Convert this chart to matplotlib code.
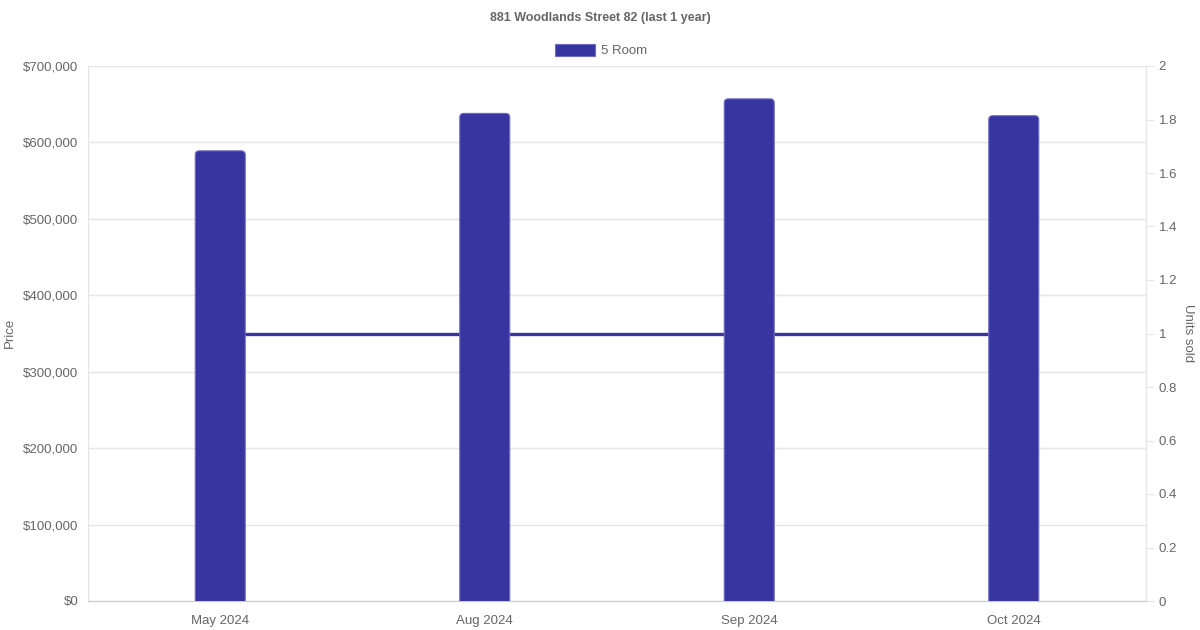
import matplotlib.pyplot as plt
import numpy as np
from matplotlib.patches import FancyBboxPatch
from matplotlib.ticker import FuncFormatter


TITLE = "881 Woodlands Street 82 (last 1 year)"
SERIES = "5 Room"
months = ["May 2024", "Aug 2024", "Sep 2024", "Oct 2024"]
prices = [589000, 638000, 657000, 635000]
units_sold = [1, 1, 1, 1]

BAR = "#3835a0"
EDGE = "#6e6bc4"
GRID = "#e5e5e5"
TEXT = "#666666"

plt.rcParams["font.family"] = ["Liberation Sans", "DejaVu Sans"]


def main():
    fig = plt.figure(figsize=(12, 6.3), dpi=100)
    ax = fig.add_axes([88 / 1200, 29 / 630, (1146 - 88) / 1200, (601 - 66) / 630])
    ax2 = ax.twinx()
    ax.set_zorder(ax2.get_zorder() + 1)
    ax.patch.set_visible(False)

    x = np.arange(len(months)) + 0.5
    ax.set_xlim(0, len(months))
    ax.set_ylim(0, 700000)
    ax2.set_ylim(0, 2)

    # line behind the bars, on the right axis
    ax2.plot(x, units_sold, color=BAR, lw=2.4, solid_capstyle="butt", zorder=1)

    # rounded top bars, bottom pushed below 0 so only the top corners show
    width = 50 / (1058 / len(months))
    rx = 4 / (1058 / len(months))
    ry = 4 * 700000 / 535
    for xi, p in zip(x, prices):
        patch = FancyBboxPatch(
            (xi - width / 2, -20000), width, p + 20000,
            boxstyle=f"round,pad=0,rounding_size={rx}",
            mutation_aspect=ry / rx,
            facecolor=BAR, edgecolor=EDGE, lw=0.8, zorder=3,
        )
        ax.add_patch(patch)

    ax.set_xticks(x)
    ax.set_xticklabels(months)
    ax.set_yticks(np.arange(0, 700001, 100000))
    ax.yaxis.set_major_formatter(FuncFormatter(lambda v, _: f"${v:,.0f}"))
    ax2.set_yticks(np.arange(0, 2.01, 0.2))
    ax2.yaxis.set_major_formatter(FuncFormatter(lambda v, _: f"{v:g}"))

    ax.grid(axis="y", color=GRID, lw=1)
    ax.set_axisbelow(True)
    ax.tick_params(axis="both", length=0, colors=TEXT, labelsize=9.5)
    ax.tick_params(axis="x", pad=10)
    ax.tick_params(axis="y", pad=7)
    ax2.tick_params(axis="y", length=6, color=GRID, colors=TEXT, labelsize=9.5, pad=3)
    ax2.tick_params(axis="y", color=GRID)

    for a in (ax, ax2):
        a.spines["top"].set_visible(False)
        a.spines["left"].set_color(GRID)
        a.spines["right"].set_color(GRID)
        a.spines["bottom"].set_color("#cccccc")

    fig.text(10 / 1200, 1 - 333 / 630, "Price", rotation=90, ha="center", va="center",
             color=TEXT, fontsize=9.5)
    fig.text(1188 / 1200, 1 - 333 / 630, "Units sold", rotation=270, ha="center", va="center",
             color=TEXT, fontsize=9.5)
    fig.text(0.5, 1 - 18 / 630, TITLE, ha="center", va="center", color=TEXT,
             fontsize=9, fontweight="bold")

    # legend
    fig.patches.append(plt.Rectangle((555 / 1200, 1 - 56 / 630), 40 / 1200, 12 / 630,
                                     transform=fig.transFigure, facecolor=BAR,
                                     edgecolor=EDGE, lw=0.8))
    fig.text(601 / 1200, 1 - 51 / 630, SERIES, ha="left", va="center", color=TEXT,
             fontsize=9.5)

    fig.savefig("out.png", dpi=100)
    plt.close(fig)


if __name__ == "__main__":
    main()
